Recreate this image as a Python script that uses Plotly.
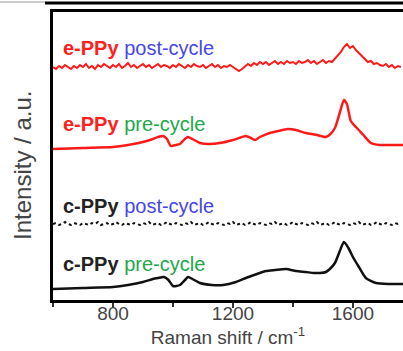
import plotly.graph_objects as go

# Raman shift axis (cm^-1) for the noisy traces
shift_fine = list(range(600, 1770, 10))

# e-PPy after cycling: noisy spectrum, weak band near 1580 cm^-1
eppy_post = [
    233, 231, 234, 232, 235, 233, 231, 234, 232, 235,   # 600-690
    233, 236, 232, 234, 231, 235, 233, 236, 234, 232,   # 700-790
    235, 233, 236, 232, 234, 237, 233, 235, 232, 234,   # 800-890
    236, 233, 235, 232, 234, 236, 233, 235, 234, 232,   # 900-990
    235, 233, 236, 234, 232, 235, 233, 236, 234, 233,   # 1000-1090
    235, 232, 234, 236, 233, 235, 232, 234, 233, 235,   # 1100-1190
    233, 231, 229, 231, 234, 236, 234, 237, 235, 238,   # 1200-1290
    236, 238, 235, 237, 239, 236, 238, 236, 239, 237,   # 1300-1390
    238, 236, 239, 237, 238, 240, 237, 239, 236, 238,   # 1400-1490
    240, 237, 239, 238, 241, 244, 248, 253, 256, 252,   # 1500-1590
    254, 250, 247, 243, 240, 238, 239, 236, 237, 235,   # 1600-1690
    234, 236, 233, 235, 232, 234, 233,                  # 1700-1760
]

# c-PPy after cycling: flat, noisy trace
cppy_post = [
    76, 77, 75, 76, 78, 76, 75, 77, 76, 75,
    77, 76, 75, 77, 76, 78, 75, 76, 77, 75,
    76, 78, 76, 75, 77, 76, 75, 77, 76, 75,
    77, 76, 78, 75, 76, 77, 75, 76, 78, 76,
    75, 77, 76, 75, 77, 76, 78, 75, 76, 77,
    75, 76, 78, 76, 75, 77, 76, 75, 77, 76,
    78, 75, 76, 77, 75, 76, 78, 76, 75, 77,
    76, 75, 77, 76, 78, 75, 76, 77, 75, 76,
    78, 76, 75, 77, 76, 75, 77, 76, 78, 75,
    76, 77, 75, 76, 78, 76, 75, 77, 76, 75,
    77, 76, 78, 75, 76, 77, 75, 76, 78, 76,
    75, 77, 76, 75, 77, 76, 77,
]

# e-PPy before cycling
eppy_pre_x = [600, 700, 800, 850, 900, 933, 950, 967, 980, 993, 1010, 1023, 1040,
              1050, 1065, 1090, 1120, 1157, 1200, 1243, 1260, 1273, 1290, 1323,
              1350, 1383, 1410, 1443, 1480, 1510, 1525, 1540, 1555, 1570, 1580,
              1593, 1610, 1635, 1660, 1690, 1710, 1767]
eppy_pre = [151, 152, 153, 155, 158, 161, 163, 164, 161, 154, 155, 156, 161,
            163, 161, 157, 156, 157, 160, 164, 162, 160, 163, 167,
            169, 171, 170, 167, 165, 163, 166, 172, 186, 200, 196,
            179, 173, 165, 157, 155, 155, 155]

# c-PPy before cycling
cppy_pre_x = [600, 700, 800, 850, 900, 933, 950, 970, 985, 1000, 1023, 1040, 1050,
              1065, 1090, 1130, 1167, 1210, 1243, 1280, 1310, 1340, 1377, 1410,
              1443, 1470, 1490, 1510, 1523, 1540, 1555, 1570, 1585, 1600, 1620,
              1643, 1677, 1720, 1767]
cppy_pre = [11, 12, 13, 15, 18, 21, 22, 23, 20, 14, 15, 20, 23,
            21, 17, 15, 15, 18, 22, 26, 29, 30, 31, 29,
            28, 27, 27, 28, 31, 37, 48, 58, 52, 43, 33,
            22, 17, 16, 16]

# Trace labels: (x, y, sample, sample colour, state, state colour)
labels = [
    (627, 252, "e-PPy", "#ff2020", "post-cycle", "#4646e8"),
    (627, 176, "e-PPy", "#ff2020", "pre-cycle", "#22a84a"),
    (627, 94, "c-PPy", "#222222", "post-cycle", "#4646e8"),
    (627, 36, "c-PPy", "#222222", "pre-cycle", "#22a84a"),
]

RED = "#ff1a1a"
BLACK = "#111111"
FONT = "Liberation Sans, Arial, sans-serif"

fig = go.Figure()
fig.add_trace(go.Scatter(x=shift_fine, y=eppy_post, mode="lines",
                         line=dict(color=RED, width=2)))
fig.add_trace(go.Scatter(x=eppy_pre_x, y=eppy_pre, mode="lines",
                         line=dict(color=RED, width=2.5, shape="spline", smoothing=0.6)))
fig.add_trace(go.Scatter(x=shift_fine, y=cppy_post, mode="lines",
                         line=dict(color=BLACK, width=2, dash="dot")))
fig.add_trace(go.Scatter(x=cppy_pre_x, y=cppy_pre, mode="lines",
                         line=dict(color=BLACK, width=2.5, shape="spline", smoothing=0.6)))

for x, y, name, ncol, state, scol in labels:
    fig.add_annotation(
        x=x, y=y, xref="x", yref="y", xanchor="left", yanchor="middle",
        showarrow=False,
        text=f"<b><span style='color:{ncol}'>{name}</span></b> "
             f"<span style='color:{scol}'>{state}</span>",
        font=dict(family=FONT, size=20),
    )

# Y-axis title
fig.add_annotation(
    x=-31 / 350, y=134 / 288, xref="paper", yref="paper",
    xanchor="center", yanchor="middle",
    text="Intensity / a.u.", textangle=-90, showarrow=False,
    font=dict(family=FONT, size=24, color="#444444"),
)

# Border line above the panel
fig.add_shape(type="line", xref="paper", yref="paper",
              x0=-53 / 350, x1=-8 / 350, y0=1 + 10 / 288, y1=1 + 10 / 288,
              line=dict(color="#999999", width=1))
fig.add_shape(type="line", xref="paper", yref="paper",
              x0=-8 / 350, x1=1.01, y0=1 + 9 / 288, y1=1 + 9 / 288,
              line=dict(color="#000000", width=3))

fig.update_layout(
    width=403, height=351,
    margin=dict(l=53, r=0, t=12, b=51),
    paper_bgcolor="white", plot_bgcolor="white",
    showlegend=False,
    font=dict(family=FONT, color="#444444"),
    xaxis=dict(
        range=[600, 1767], showgrid=False, zeroline=False,
        showline=True, linecolor="black", linewidth=3, mirror=True,
        ticks="outside", ticklen=5, tickwidth=1.5, tickcolor="#333333",
        tick0=800, dtick=400, ticklabelstandoff=-11,
        minor=dict(dtick=200, tick0=800, ticks="outside", ticklen=4,
                   tickwidth=1.5, tickcolor="#333333"),
        tickfont=dict(family=FONT, size=19, color="#444444"),
        title=dict(text="Raman shift / cm<sup>-1</sup>", standoff=6,
                   font=dict(family=FONT, size=19, color="#444444")),
    ),
    yaxis=dict(
        range=[0, 288], showgrid=False, zeroline=False,
        showline=True, linecolor="black", linewidth=3, mirror=False,
        showticklabels=False, ticks="",
    ),
)

fig.write_html("out.html")
